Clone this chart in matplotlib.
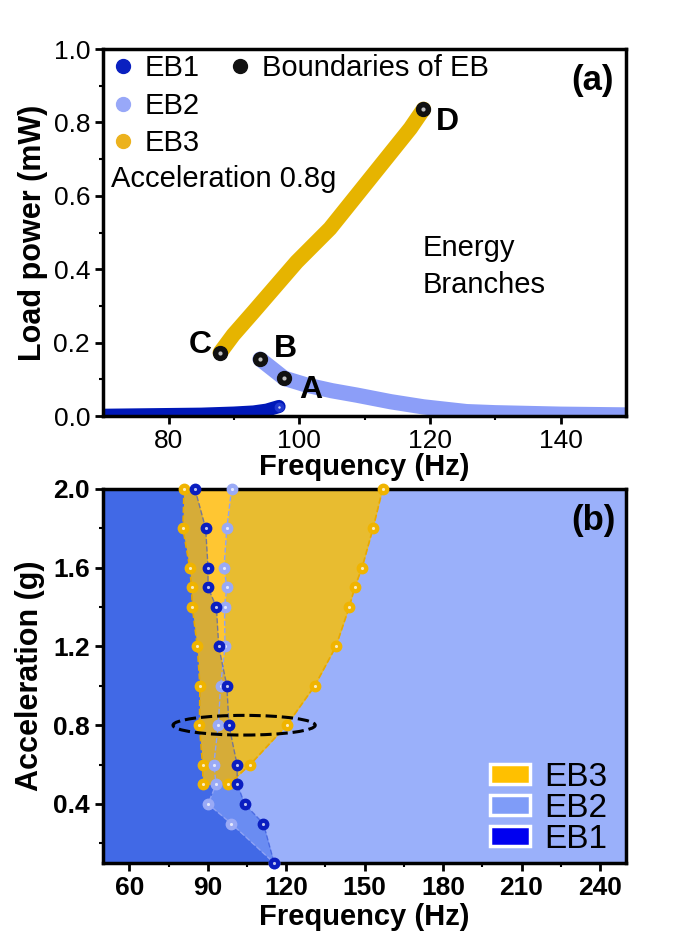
import numpy as np
import matplotlib
matplotlib.use("Agg")
import matplotlib.pyplot as plt
from matplotlib.lines import Line2D
from matplotlib.patches import Ellipse, Patch

plt.rcParams['font.family'] = ['Liberation Sans', 'DejaVu Sans']

# ---- panel (a): load power vs frequency at 0.8 g ----
eb1_f = [70, 75, 80, 85, 90, 93, 95, 96.9]
eb1_p = [0.002, 0.003, 0.004, 0.005, 0.008, 0.011, 0.016, 0.026]
eb2_f = [94.0, 96.0, 97.7, 101.2, 105, 108.8, 114, 119.0, 125.6, 130, 135, 140, 145, 150]
eb2_p = [0.155, 0.127, 0.103, 0.084, 0.069, 0.057, 0.039, 0.025, 0.012, 0.009, 0.007, 0.005, 0.004, 0.003]
eb3_f = [87.9, 89.9, 93.0, 99.6, 104.7, 108.8, 112.9, 117.0, 119.0]
eb3_p = [0.173, 0.221, 0.284, 0.420, 0.511, 0.602, 0.693, 0.784, 0.836]
bound_names = ['A', 'B', 'C', 'D']
bound_f = [97.7, 94.0, 87.9, 119.0]
bound_p = [0.103, 0.155, 0.173, 0.836]

# ---- panel (b): energy-branch map ----
acc = [2.0, 1.8, 1.6, 1.5, 1.4, 1.2, 1.0, 0.8, 0.6, 0.5, 0.4, 0.3, 0.1]
eb1_edge = [85.1, 89.2, 90.1, 90.1, 93.3, 94.2, 97.3, 98.1, 101.2, 101.3, 104.1, 111.3, 115.4]
eb2_edge = [99.1, 97.3, 96.2, 97.3, 96.4, 96.6, 94.9, 94.0, 92.3, 93.2, 90.1, 99.0, 115.4]
acc3 = [2.0, 1.8, 1.6, 1.5, 1.4, 1.2, 1.0, 0.8, 0.6, 0.5]
eb3_low = [80.9, 80.5, 83.1, 83.8, 84.1, 86.0, 87.0, 86.8, 88.0, 88.2]
eb3_high = [156.9, 153.2, 149.0, 146.2, 144.1, 139.0, 130.9, 120.2, 106.2, 97.9]

c_eb1 = '#0A20C0'
c_eb2 = '#98A8F8'
c_eb3 = '#ECB21E'


def ball(ax, x, y, color, ms, z=5):
    ax.plot(x, y, 'o', ls='none', color=color, mec=color, ms=ms, zorder=z, clip_on=False)
    ax.plot(x, y, 'o', ls='none', color='white', mec='none', ms=ms * 0.3, alpha=0.75,
            zorder=z + 0.1, clip_on=False)


fig = plt.figure(figsize=(6.88, 9.4), dpi=100)
ax1 = fig.add_axes([0.150, 0.5574, 0.760, 0.3904])
ax2 = fig.add_axes([0.150, 0.0819, 0.760, 0.3979])

# panel a
ax1.plot(eb1_f, eb1_p, color='#0018B8', lw=9.5, solid_capstyle='round', zorder=2)
ax1.plot(eb2_f, eb2_p, color='#8C9EF8', lw=11, solid_capstyle='round', zorder=2)
ax1.plot(eb3_f, eb3_p, color='#E6B400', lw=11, solid_capstyle='round', zorder=3)
ball(ax1, eb1_f[-1], eb1_p[-1], '#2038D0', 6, z=3)
ball(ax1, bound_f, bound_p, '#111111', 10, z=6)
lab_xy = {'A': (101.7, 0.071), 'B': (97.9, 0.184), 'C': (84.8, 0.193), 'D': (122.6, 0.80)}
for n in bound_names:
    ax1.text(lab_xy[n][0], lab_xy[n][1], n, fontsize=23, fontweight='bold',
             ha='center', va='center')

ax1.text(71.2, 0.645, 'Acceleration 0.8g', fontsize=21, va='center')
ax1.text(118.8, 0.457, 'Energy', fontsize=21, va='center')
ax1.text(118.8, 0.357, 'Branches', fontsize=21, va='center')
ax1.text(0.935, 0.915, '(a)', transform=ax1.transAxes, fontsize=25, fontweight='bold',
         ha='center', va='center')

h_eb = [Line2D([], [], ls='none', marker='o', ms=10, color=c, mec=c)
        for c in [c_eb1, c_eb2, c_eb3]]
leg1 = ax1.legend(h_eb, ['EB1', 'EB2', 'EB3'], loc='upper left', bbox_to_anchor=(-0.01, 1.018),
                  frameon=False, fontsize=21, handlelength=0.9, handletextpad=0.3,
                  labelspacing=0.33, borderaxespad=0)
ax1.add_artist(leg1)
h_b = [Line2D([], [], ls='none', marker='o', ms=10, color='#111111')]
ax1.legend(h_b, ['Boundaries of EB'], loc='upper left', bbox_to_anchor=(0.215, 1.018),
           frameon=False, fontsize=21, handlelength=0.9, handletextpad=0.3, borderaxespad=0)

ax1.set_xlim(70, 150)
ax1.set_ylim(0, 1.0)
ax1.set_xticks([80, 100, 120, 140])
ax1.set_xticks([90, 110, 130], minor=True)
ax1.set_yticks(np.arange(0, 1.01, 0.2))
ax1.set_yticks(np.arange(0.1, 1.0, 0.2), minor=True)
ax1.set_yticklabels(['0.0', '0.2', '0.4', '0.6', '0.8', '1.0'])
ax1.set_xlabel('Frequency (Hz)', fontsize=21, fontweight='bold', labelpad=0)
ax1.set_ylabel('Load power (mW)', fontsize=22, fontweight='bold', labelpad=4)

# panel b
ax2.set_facecolor('#9AB0FA')
ax2.fill_betweenx(acc, 50, eb2_edge, color='#4169E6', lw=0, zorder=1)
ax2.fill_betweenx(acc, eb2_edge, eb1_edge, where=np.array(eb1_edge) > np.array(eb2_edge),
                  interpolate=True, color='#6A8CF2', lw=0, zorder=1.5)
ax2.fill_betweenx(acc3, eb3_low, eb3_high, color='#E8BC30', lw=0, zorder=2)
ax2.fill_betweenx(acc3, eb3_low, eb1_edge[:10], color='#D6AC38', lw=0, zorder=2.2)
ax2.fill_betweenx(acc3, eb1_edge[:10], eb2_edge[:10],
                  where=np.array(eb2_edge[:10]) > np.array(eb1_edge[:10]),
                  interpolate=True, color='#FFC632', lw=0, zorder=2.3)
ax2.plot(eb3_low, acc3, ls='--', lw=1.2, color='#E8A800', zorder=3)
ax2.plot(eb3_high, acc3, ls='--', lw=1.2, color='#E8A800', zorder=3)
ax2.plot(eb2_edge, acc, ls='--', lw=1, color='#8EA2F4', zorder=3)
ax2.plot(eb1_edge, acc, ls='--', lw=1, color='#3050D8', alpha=0.6, zorder=3)
ball(ax2, eb3_low + eb3_high, acc3 + acc3, '#F0B400', 7.5, z=5)
ball(ax2, eb2_edge, acc, '#9AAAF6', 7.5, z=5.3)
ball(ax2, eb1_edge, acc, '#0A1EC0', 7.5, z=5.6)
ax2.add_patch(Ellipse((103.9, 0.8), 54.4, 0.1, fill=False, ls='--', lw=2.2,
                      edgecolor='black', zorder=7))
ax2.text(0.937, 0.917, '(b)', transform=ax2.transAxes, fontsize=25, fontweight='bold',
         ha='center', va='center')

h_p = [Patch(facecolor=c, edgecolor='white', lw=2.5) for c in ['#FFC000', '#7F9CF8', '#0000F0']]
ax2.legend(h_p, ['EB3', 'EB2', 'EB1'], loc='lower right', bbox_to_anchor=(1.0, -0.028),
           frameon=False, fontsize=24, handlelength=1.2, handleheight=0.55,
           handletextpad=0.45, labelspacing=0.0, borderaxespad=0.15)

ax2.set_xlim(50, 250)
ax2.set_ylim(0.1, 2.0)
ax2.set_xticks(np.arange(60, 241, 30))
ax2.set_xticks(np.arange(75, 250, 30), minor=True)
ax2.set_yticks([0.4, 0.8, 1.2, 1.6, 2.0])
ax2.set_yticks([0.2, 0.6, 1.0, 1.4, 1.8], minor=True)
ax2.set_yticklabels(['0.4', '0.8', '1.2', '1.6', '2.0'])
ax2.set_xlabel('Frequency (Hz)', fontsize=21, fontweight='bold', labelpad=2)
ax2.set_ylabel('Acceleration (g)', fontsize=22, fontweight='bold', labelpad=6)

for ax, w in [(ax1, 'normal'), (ax2, 'bold')]:
    for s in ax.spines.values():
        s.set_linewidth(2.5)
    ax.tick_params(which='major', direction='out', length=6, width=2, labelsize=19)
    ax.tick_params(which='minor', direction='out', length=3, width=1.5)
    for t in ax.get_xticklabels() + ax.get_yticklabels():
        t.set_fontweight(w)

fig.savefig('out.png', dpi=100)
